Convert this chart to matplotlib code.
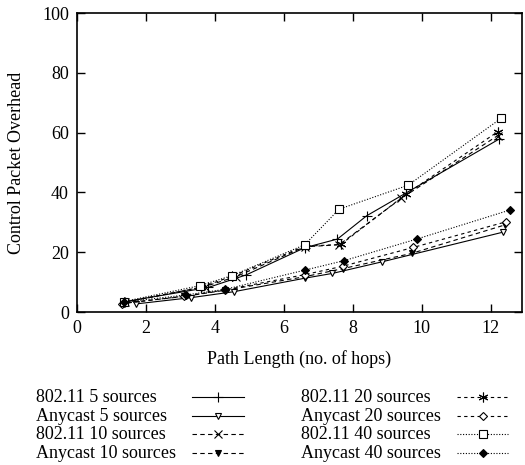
import numpy as np
import matplotlib
matplotlib.use('Agg')
import matplotlib.pyplot as plt
from matplotlib.lines import Line2D

plt.rcParams['font.family'] = ['Liberation Serif', 'DejaVu Serif']
plt.rcParams['font.size'] = 13

# 802.11 series
x_80211_5 = [1.4, 3.8, 4.9, 6.6, 7.55, 8.4, 12.25]
y_80211_5 = [3.5, 8.2, 12.4, 21.5, 24.4, 32.2, 57.9]
x_80211_10 = [1.4, 3.7, 4.6, 6.6, 7.6, 9.4, 12.2]
y_80211_10 = [3.3, 8.5, 11.8, 21.8, 22.5, 38.0, 59.0]
x_80211_20 = [1.35, 3.6, 4.5, 6.6, 7.65, 9.55, 12.2]
y_80211_20 = [3.2, 8.3, 12.0, 22.0, 22.6, 39.5, 60.3]
x_80211_40 = [1.35, 3.55, 4.5, 6.6, 7.6, 9.6, 12.3]
y_80211_40 = [3.5, 8.8, 12.2, 22.5, 34.4, 42.4, 64.8]

# Anycast series
x_any_5 = [1.7, 3.3, 4.55, 6.6, 7.4, 8.85, 12.35]
y_any_5 = [2.7, 4.8, 6.8, 11.3, 12.9, 16.8, 26.7]
x_any_10 = [1.4, 3.1, 4.3, 6.6, 7.7, 9.7, 12.4]
y_any_10 = [3.0, 5.2, 7.3, 11.8, 14.5, 19.6, 29.1]
x_any_20 = [1.3, 3.1, 4.3, 6.6, 7.7, 9.75, 12.45]
y_any_20 = [2.8, 5.3, 7.4, 12.5, 15.3, 21.6, 30.2]
x_any_40 = [1.35, 3.15, 4.3, 6.6, 7.75, 9.85, 12.55]
y_any_40 = [3.3, 5.7, 7.6, 14.0, 17.2, 24.4, 34.1]

fig = plt.figure(figsize=(5.25, 4.65), dpi=100)
ax = fig.add_axes([0.147, 0.329, 0.847, 0.643])

lw = 0.8
dash = (0, (4, 3))
dash2 = (0, (3, 3))
dot = (0, (1, 1.5))
series = [
    (x_80211_5, y_80211_5, '-', dict(marker='+', ms=7, mew=0.8), '802.11 5 sources'),
    (x_any_5, y_any_5, '-', dict(marker='v', ms=5, mfc='white', mew=0.8), 'Anycast 5 sources'),
    (x_80211_10, y_80211_10, dash, dict(marker='x', ms=6, mew=0.8), '802.11 10 sources'),
    (x_any_10, y_any_10, dash, dict(marker='v', ms=5, mew=0.8), 'Anycast 10 sources'),
    (x_80211_20, y_80211_20, dash2, dict(marker=(6, 2, 0), ms=7, mew=0.8), '802.11 20 sources'),
    (x_any_20, y_any_20, dash2, dict(marker='D', ms=4.5, mfc='white', mew=0.8), 'Anycast 20 sources'),
    (x_80211_40, y_80211_40, dot, dict(marker='s', ms=6, mfc='white', mew=0.8), '802.11 40 sources'),
    (x_any_40, y_any_40, dot, dict(marker='D', ms=4.5, mew=0.8), 'Anycast 40 sources'),
]
for xs, ys, ls, mk, lab in series:
    ax.plot(xs, ys, color='k', lw=lw, ls=ls, label=lab, **mk)

ax.set_xlim(0, 12.9)
ax.set_ylim(0, 100)
ax.set_xticks([0, 2, 4, 6, 8, 10, 12])
ax.set_yticks([0, 20, 40, 60, 80, 100])
ax.tick_params(direction='in', top=True, right=True, length=6, width=1, pad=6)
for s in ax.spines.values():
    s.set_linewidth(1.2)

ax.set_xlabel('Path Length (no. of hops)', labelpad=9)
ax.set_ylabel('Control Packet Overhead', labelpad=12)

# legend: text on the left, line sample on the right, two columns
W, H = 525.0, 465.0
row_y = [397, 416, 434, 453]
col_text = [36, 301]
col_line = [(192, 244), (457, 508)]
for i, (xs, ys, ls, mk, lab) in enumerate(series):
    c, r = divmod(i, 4)
    fy = 1 - row_y[r] / H
    fig.text(col_text[c] / W, fy, lab, ha='left', va='center')
    x0, x1 = col_line[c]
    ln = Line2D([x0 / W, (x0 + x1) / 2 / W, x1 / W], [fy, fy, fy], transform=fig.transFigure,
                color='k', lw=lw, ls=ls, markevery=[1], **mk)
    fig.add_artist(ln)

fig.savefig('out.png', dpi=100)
